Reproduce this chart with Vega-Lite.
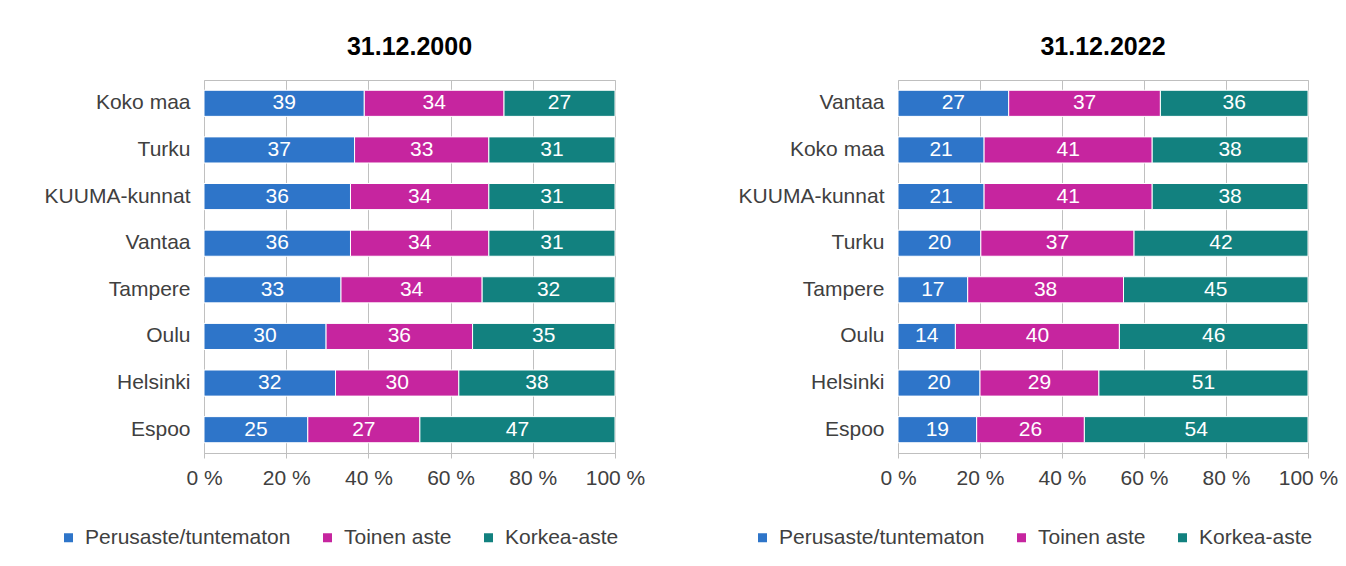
{
  "$schema": "https://vega.github.io/schema/vega-lite/v6.json",
  "background": "white",
  "padding": {"left": 43, "top": 34, "right": 5, "bottom": 5},
  "config": {
    "font": "Liberation Sans",
    "view": {"stroke": "#bfbfbf", "strokeWidth": 1},
    "axis": {"labelFont": "Liberation Sans", "labelFontSize": 21, "labelColor": "#404040", "gridColor": "#c0c0c0", "domainColor": "#bfbfbf", "tickColor": "#bfbfbf"},
    "legend": {"labelFont": "Liberation Sans", "labelFontSize": 21, "labelColor": "#404040", "labelLimit": 0},
    "title": {"font": "Liberation Sans", "fontSize": 25, "fontWeight": "bold", "color": "#000000", "anchor": "middle", "offset": 20},
    "concat": {"spacing": 283}
  },
  "data": {
    "values": [
      {"vuosi": "2000", "alue": "Koko maa", "rivi": 1, "aste": "Perusaste/tuntematon", "j": 1, "osuus": 39},
      {"vuosi": "2000", "alue": "Koko maa", "rivi": 1, "aste": "Toinen aste", "j": 2, "osuus": 34},
      {"vuosi": "2000", "alue": "Koko maa", "rivi": 1, "aste": "Korkea-aste", "j": 3, "osuus": 27},
      {"vuosi": "2000", "alue": "Turku", "rivi": 2, "aste": "Perusaste/tuntematon", "j": 1, "osuus": 37},
      {"vuosi": "2000", "alue": "Turku", "rivi": 2, "aste": "Toinen aste", "j": 2, "osuus": 33},
      {"vuosi": "2000", "alue": "Turku", "rivi": 2, "aste": "Korkea-aste", "j": 3, "osuus": 31},
      {"vuosi": "2000", "alue": "KUUMA-kunnat", "rivi": 3, "aste": "Perusaste/tuntematon", "j": 1, "osuus": 36},
      {"vuosi": "2000", "alue": "KUUMA-kunnat", "rivi": 3, "aste": "Toinen aste", "j": 2, "osuus": 34},
      {"vuosi": "2000", "alue": "KUUMA-kunnat", "rivi": 3, "aste": "Korkea-aste", "j": 3, "osuus": 31},
      {"vuosi": "2000", "alue": "Vantaa", "rivi": 4, "aste": "Perusaste/tuntematon", "j": 1, "osuus": 36},
      {"vuosi": "2000", "alue": "Vantaa", "rivi": 4, "aste": "Toinen aste", "j": 2, "osuus": 34},
      {"vuosi": "2000", "alue": "Vantaa", "rivi": 4, "aste": "Korkea-aste", "j": 3, "osuus": 31},
      {"vuosi": "2000", "alue": "Tampere", "rivi": 5, "aste": "Perusaste/tuntematon", "j": 1, "osuus": 33},
      {"vuosi": "2000", "alue": "Tampere", "rivi": 5, "aste": "Toinen aste", "j": 2, "osuus": 34},
      {"vuosi": "2000", "alue": "Tampere", "rivi": 5, "aste": "Korkea-aste", "j": 3, "osuus": 32},
      {"vuosi": "2000", "alue": "Oulu", "rivi": 6, "aste": "Perusaste/tuntematon", "j": 1, "osuus": 30},
      {"vuosi": "2000", "alue": "Oulu", "rivi": 6, "aste": "Toinen aste", "j": 2, "osuus": 36},
      {"vuosi": "2000", "alue": "Oulu", "rivi": 6, "aste": "Korkea-aste", "j": 3, "osuus": 35},
      {"vuosi": "2000", "alue": "Helsinki", "rivi": 7, "aste": "Perusaste/tuntematon", "j": 1, "osuus": 32},
      {"vuosi": "2000", "alue": "Helsinki", "rivi": 7, "aste": "Toinen aste", "j": 2, "osuus": 30},
      {"vuosi": "2000", "alue": "Helsinki", "rivi": 7, "aste": "Korkea-aste", "j": 3, "osuus": 38},
      {"vuosi": "2000", "alue": "Espoo", "rivi": 8, "aste": "Perusaste/tuntematon", "j": 1, "osuus": 25},
      {"vuosi": "2000", "alue": "Espoo", "rivi": 8, "aste": "Toinen aste", "j": 2, "osuus": 27},
      {"vuosi": "2000", "alue": "Espoo", "rivi": 8, "aste": "Korkea-aste", "j": 3, "osuus": 47},
      {"vuosi": "2022", "alue": "Vantaa", "rivi": 1, "aste": "Perusaste/tuntematon", "j": 1, "osuus": 27},
      {"vuosi": "2022", "alue": "Vantaa", "rivi": 1, "aste": "Toinen aste", "j": 2, "osuus": 37},
      {"vuosi": "2022", "alue": "Vantaa", "rivi": 1, "aste": "Korkea-aste", "j": 3, "osuus": 36},
      {"vuosi": "2022", "alue": "Koko maa", "rivi": 2, "aste": "Perusaste/tuntematon", "j": 1, "osuus": 21},
      {"vuosi": "2022", "alue": "Koko maa", "rivi": 2, "aste": "Toinen aste", "j": 2, "osuus": 41},
      {"vuosi": "2022", "alue": "Koko maa", "rivi": 2, "aste": "Korkea-aste", "j": 3, "osuus": 38},
      {"vuosi": "2022", "alue": "KUUMA-kunnat", "rivi": 3, "aste": "Perusaste/tuntematon", "j": 1, "osuus": 21},
      {"vuosi": "2022", "alue": "KUUMA-kunnat", "rivi": 3, "aste": "Toinen aste", "j": 2, "osuus": 41},
      {"vuosi": "2022", "alue": "KUUMA-kunnat", "rivi": 3, "aste": "Korkea-aste", "j": 3, "osuus": 38},
      {"vuosi": "2022", "alue": "Turku", "rivi": 4, "aste": "Perusaste/tuntematon", "j": 1, "osuus": 20},
      {"vuosi": "2022", "alue": "Turku", "rivi": 4, "aste": "Toinen aste", "j": 2, "osuus": 37},
      {"vuosi": "2022", "alue": "Turku", "rivi": 4, "aste": "Korkea-aste", "j": 3, "osuus": 42},
      {"vuosi": "2022", "alue": "Tampere", "rivi": 5, "aste": "Perusaste/tuntematon", "j": 1, "osuus": 17},
      {"vuosi": "2022", "alue": "Tampere", "rivi": 5, "aste": "Toinen aste", "j": 2, "osuus": 38},
      {"vuosi": "2022", "alue": "Tampere", "rivi": 5, "aste": "Korkea-aste", "j": 3, "osuus": 45},
      {"vuosi": "2022", "alue": "Oulu", "rivi": 6, "aste": "Perusaste/tuntematon", "j": 1, "osuus": 14},
      {"vuosi": "2022", "alue": "Oulu", "rivi": 6, "aste": "Toinen aste", "j": 2, "osuus": 40},
      {"vuosi": "2022", "alue": "Oulu", "rivi": 6, "aste": "Korkea-aste", "j": 3, "osuus": 46},
      {"vuosi": "2022", "alue": "Helsinki", "rivi": 7, "aste": "Perusaste/tuntematon", "j": 1, "osuus": 20},
      {"vuosi": "2022", "alue": "Helsinki", "rivi": 7, "aste": "Toinen aste", "j": 2, "osuus": 29},
      {"vuosi": "2022", "alue": "Helsinki", "rivi": 7, "aste": "Korkea-aste", "j": 3, "osuus": 51},
      {"vuosi": "2022", "alue": "Espoo", "rivi": 8, "aste": "Perusaste/tuntematon", "j": 1, "osuus": 19},
      {"vuosi": "2022", "alue": "Espoo", "rivi": 8, "aste": "Toinen aste", "j": 2, "osuus": 26},
      {"vuosi": "2022", "alue": "Espoo", "rivi": 8, "aste": "Korkea-aste", "j": 3, "osuus": 54}
    ]
  },
  "bounds": "flush",
  "resolve": {
    "scale": {"x": "independent", "y": "independent", "color": "independent"},
    "legend": {"color": "independent"},
    "axis": {"x": "independent", "y": "independent"}
  },
  "hconcat": [
    {
      "title": "31.12.2000",
      "width": 411,
      "height": 373,
      "transform": [
        {"filter": "datum.vuosi === '2000'"},
        {"stack": "osuus", "groupby": ["alue"], "sort": [{"field": "j"}], "as": ["x0", "x1"], "offset": "normalize"},
        {"calculate": "(datum.x0 + datum.x1) / 2", "as": "xm"}
      ],
      "encoding": {
        "y": {"field": "alue", "type": "nominal", "sort": {"field": "rivi", "op": "min"}, "title": null,
              "scale": {"paddingInner": 0.44, "paddingOuter": 0.22},
              "axis": {"ticks": false, "domain": false, "labelPadding": 14, "grid": false}}
      },
      "layer": [
        {
          "mark": {"type": "bar", "stroke": "white", "strokeWidth": 1},
          "encoding": {
            "x": {"field": "x0", "type": "quantitative", "scale": {"domain": [0, 1], "nice": false}, "title": null,
                  "axis": {"values": [0, 0.2, 0.4, 0.6, 0.8, 1], "labelExpr": "round(datum.value * 100) + ' %'", "labelFlush": false, "tickSize": 5, "labelPadding": 9, "grid": true, "domain": true}},
            "x2": {"field": "x1"},
            "color": {"field": "aste", "type": "nominal",
                      "scale": {"domain": ["Perusaste/tuntematon", "Toinen aste", "Korkea-aste"], "range": ["#2E75C9", "#C6259F", "#12817F"]},
                      "legend": {"title": null, "orient": "none", "legendX": -146, "legendY": 447, "direction": "horizontal", "symbolType": "square", "symbolSize": 81, "symbolStrokeWidth": 0, "columnPadding": 26, "labelOffset": 6, "labelLimit": 0}}
          }
        },
        {
          "mark": {"type": "text", "color": "white", "fontSize": 21, "font": "Liberation Sans"},
          "encoding": {
            "x": {"field": "xm", "type": "quantitative"},
            "text": {"field": "osuus", "type": "quantitative"}
          }
        }
      ]
    },
    {
      "title": "31.12.2022",
      "width": 410,
      "height": 373,
      "transform": [
        {"filter": "datum.vuosi === '2022'"},
        {"stack": "osuus", "groupby": ["alue"], "sort": [{"field": "j"}], "as": ["x0", "x1"], "offset": "normalize"},
        {"calculate": "(datum.x0 + datum.x1) / 2", "as": "xm"}
      ],
      "encoding": {
        "y": {"field": "alue", "type": "nominal", "sort": {"field": "rivi", "op": "min"}, "title": null,
              "scale": {"paddingInner": 0.44, "paddingOuter": 0.22},
              "axis": {"ticks": false, "domain": false, "labelPadding": 14, "grid": false}}
      },
      "layer": [
        {
          "mark": {"type": "bar", "stroke": "white", "strokeWidth": 1},
          "encoding": {
            "x": {"field": "x0", "type": "quantitative", "scale": {"domain": [0, 1], "nice": false}, "title": null,
                  "axis": {"values": [0, 0.2, 0.4, 0.6, 0.8, 1], "labelExpr": "round(datum.value * 100) + ' %'", "labelFlush": false, "tickSize": 5, "labelPadding": 9, "grid": true, "domain": true}},
            "x2": {"field": "x1"},
            "color": {"field": "aste", "type": "nominal",
                      "scale": {"domain": ["Perusaste/tuntematon", "Toinen aste", "Korkea-aste"], "range": ["#2E75C9", "#C6259F", "#12817F"]},
                      "legend": {"title": null, "orient": "none", "legendX": -146, "legendY": 447, "direction": "horizontal", "symbolType": "square", "symbolSize": 81, "symbolStrokeWidth": 0, "columnPadding": 26, "labelOffset": 6, "labelLimit": 0}}
          }
        },
        {
          "mark": {"type": "text", "color": "white", "fontSize": 21, "font": "Liberation Sans"},
          "encoding": {
            "x": {"field": "xm", "type": "quantitative"},
            "text": {"field": "osuus", "type": "quantitative"}
          }
        }
      ]
    }
  ]
}
